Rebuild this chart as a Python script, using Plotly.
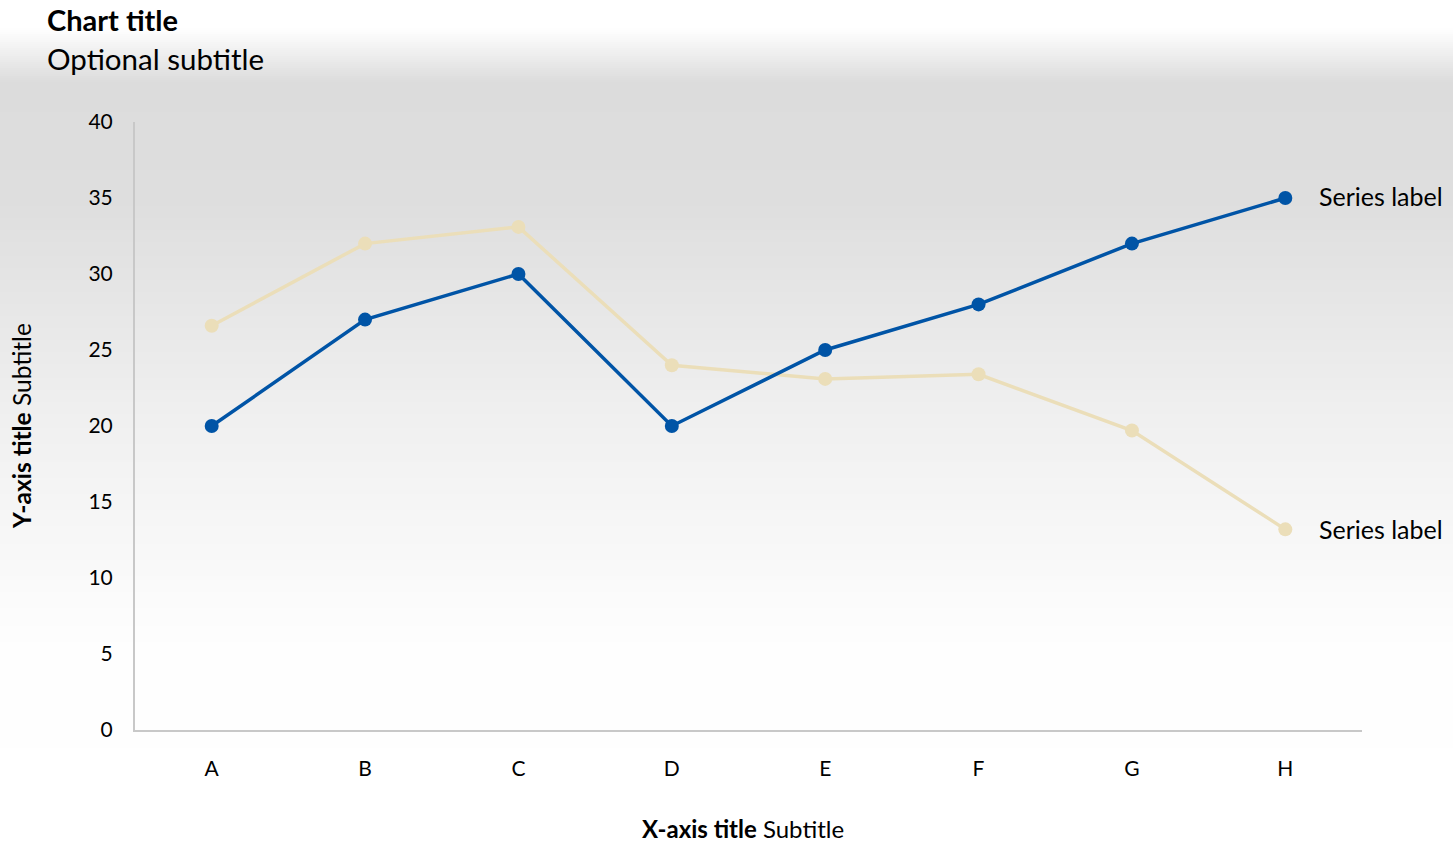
import plotly.graph_objects as go

categories = ["A", "B", "C", "D", "E", "F", "G", "H"]
series_blue = [20, 27, 30, 20, 25, 28, 32, 35]
series_beige = [26.6, 32.0, 33.1, 24.0, 23.1, 23.4, 19.7, 13.2]
series_names = ["Series label", "Series label"]
y_ticks = [0, 5, 10, 15, 20, 25, 30, 35, 40]

BLUE = "#0054a6"
BEIGE = "#ebdeb9"
FONT = "Lato"

W, H = 1453, 844
L, R, T, B = 135, 91, 122, 114
plot_w = W - L - R
plot_h = H - T - B

fig = go.Figure()
fig.add_trace(go.Scatter(x=categories, y=series_beige, mode="lines+markers",
                         line=dict(color=BEIGE, width=3.5),
                         marker=dict(color=BEIGE, size=14), name=series_names[1]))
fig.add_trace(go.Scatter(x=categories, y=series_blue, mode="lines+markers",
                         line=dict(color=BLUE, width=3.5),
                         marker=dict(color=BLUE, size=14), name=series_names[0]))

# background gradient (pixel-based strips)
stops = [(0, 255), (28, 255), (82, 220), (200, 222), (420, 240), (650, 254), (844, 255)]
def gray_at(y):
    for (y0, c0), (y1, c1) in zip(stops, stops[1:]):
        if y0 <= y <= y1:
            return c0 + (c1 - c0) * (y - y0) / (y1 - y0)
    return 255

def to_paper(py):
    return (H - B - py) / plot_h

def to_paper_x(px):
    return (px - L) / plot_w

shapes = []
step = 2
for py in range(0, H, step):
    g = int(round(gray_at(py + step / 2)))
    shapes.append(dict(type="rect", xref="paper", yref="paper",
                       x0=to_paper_x(-2), x1=to_paper_x(W + 2),
                       y0=to_paper(py + step + 0.5), y1=to_paper(py),
                       fillcolor=f"rgb({g},{g},{g})", line=dict(width=0), layer="below"))

ann = []
ann.append(dict(text="<b>Chart title</b>", xref="paper", yref="paper",
                x=to_paper_x(45), y=to_paper(20), xanchor="left", yanchor="middle",
                showarrow=False, font=dict(size=29, color="#000000", family=FONT)))
ann.append(dict(text="Optional subtitle", xref="paper", yref="paper",
                x=to_paper_x(45), y=to_paper(59), xanchor="left", yanchor="middle",
                showarrow=False, font=dict(size=29.5, color="#000000", family=FONT)))
ann.append(dict(text="<b>X-axis title</b> Subtitle", xref="paper", yref="paper",
                x=to_paper_x(743), y=to_paper(828), xanchor="center", yanchor="middle",
                showarrow=False, font=dict(size=24, color="#000000", family=FONT)))
ann.append(dict(text="<b>Y-axis title</b> Subtitle", xref="paper", yref="paper",
                x=to_paper_x(21), y=to_paper(426), xanchor="center", yanchor="middle",
                textangle=-90, showarrow=False, font=dict(size=24.5, color="#000000", family=FONT)))
ann.append(dict(text=series_names[0], x=categories[-1], y=series_blue[-1], xref="x", yref="y",
                xanchor="left", yanchor="middle", xshift=32, yshift=2, showarrow=False,
                font=dict(size=25, color="#000000", family=FONT)))
ann.append(dict(text=series_names[1], x=categories[-1], y=series_beige[-1], xref="x", yref="y",
                xanchor="left", yanchor="middle", xshift=32, showarrow=False,
                font=dict(size=25, color="#000000", family=FONT)))

fig.update_layout(
    width=W, height=H,
    margin=dict(l=L, r=R, t=T, b=B),
    paper_bgcolor="white", plot_bgcolor="rgba(0,0,0,0)",
    showlegend=False,
    shapes=shapes, annotations=ann,
    font=dict(family=FONT, size=21, color="#000000"),
    xaxis=dict(range=[-0.5, 7.5], showgrid=False, zeroline=False, showline=True,
               linecolor="#c8c8c8", linewidth=2, ticks="", ticklabelstandoff=19,
               tickfont=dict(size=21, family=FONT)),
    yaxis=dict(range=[0, 40], tickvals=y_ticks, showgrid=False, zeroline=False,
               showline=True, linecolor="#c8c8c8", linewidth=2, ticks="",
               ticklabelstandoff=16, tickfont=dict(size=21, family=FONT)),
)

fig.write_html("out.html", config={"displayModeBar": False},
               post_script="document.body.style.margin='0';document.body.style.overflow='hidden';")
